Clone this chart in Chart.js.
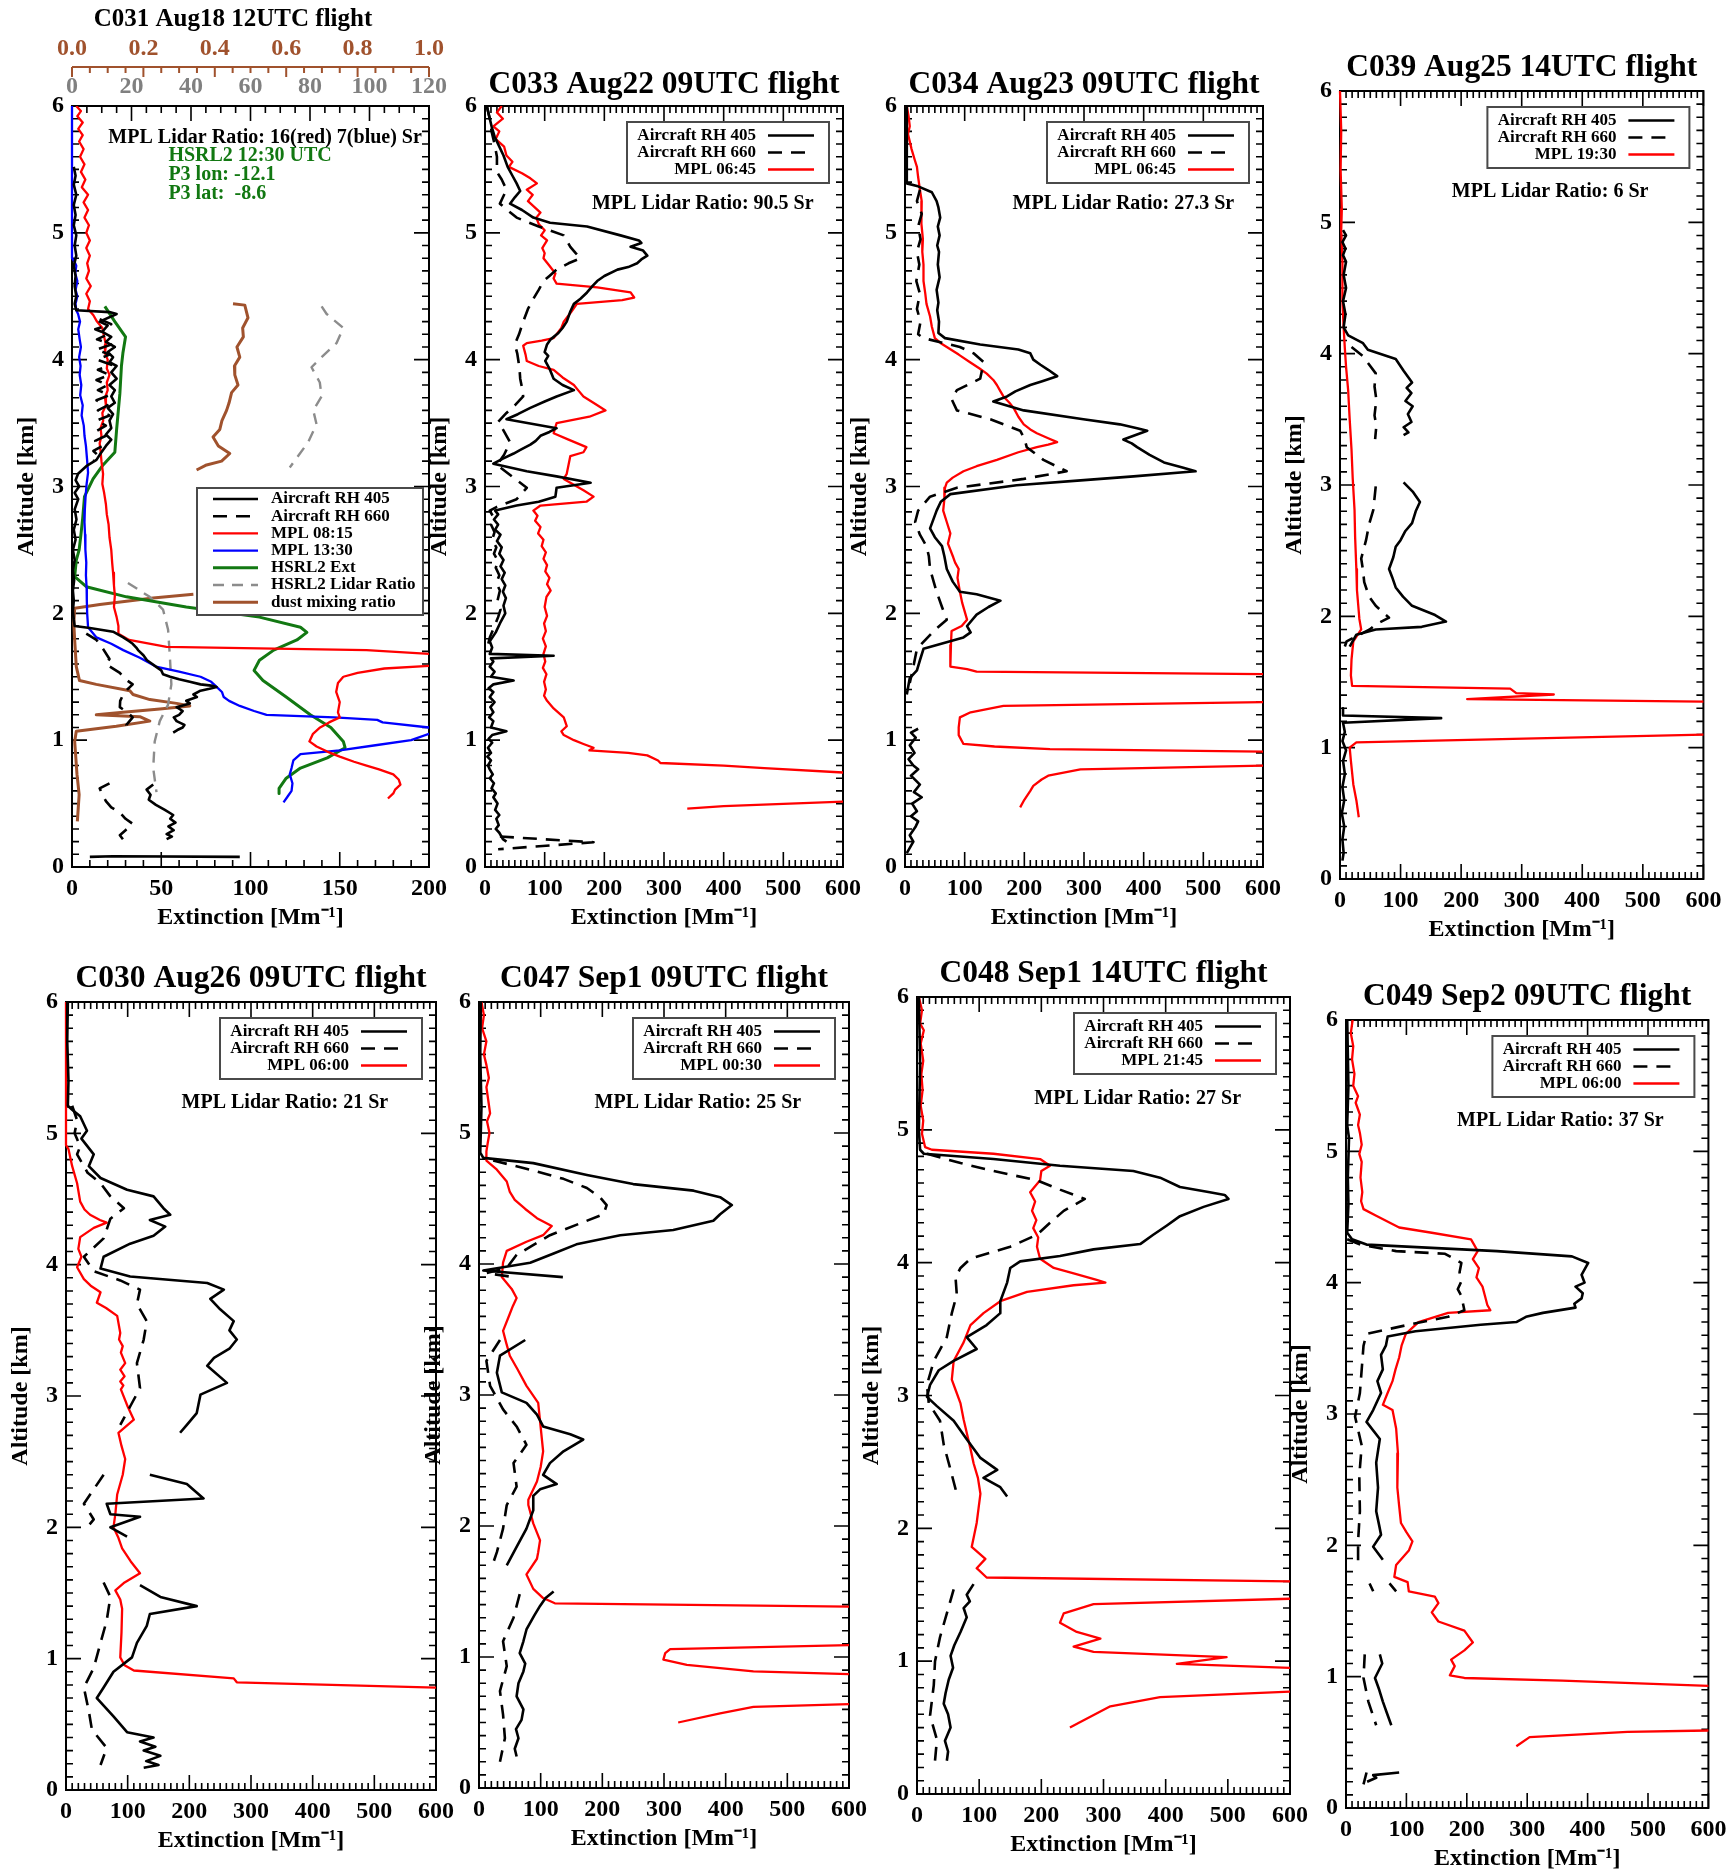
<!DOCTYPE html>
<html>
<head>
<meta charset="utf-8">
<title>Extinction profiles</title>
<script src="https://cdn.jsdelivr.net/npm/chart.js@4.4.1/dist/chart.umd.min.js"></script>
<style>
  html, body { margin: 0; padding: 0; background: #fff; }
  body { position: relative; width: 1734px; height: 1874px; overflow: hidden; }
  canvas { position: absolute; }
</style>
</head>
<body>
<script>
// ---------- profile data: [extinction (Mm-1), altitude (km)], null breaks a line ----------

// C031 Aug18
const c031Rh405 = [[1,5.52],[2,5.45],[1,5.38],[2.4,5.3],[1,5.22],[2,5.14],[1,5.06],[2.4,4.98],[1.5,4.9],[2.4,4.82],[1,4.74],[2,4.66],[1.5,4.58],[2.4,4.5],[1.5,4.44],[2.4,4.39],
  [21,4.375],[25,4.36],[15.5,4.3],[20,4.27],[17,4.22],[22,4.18],[19,4.14],[24,4.1],[20,4.06],[23,4.02],[21,3.98],[25,3.95],[22,3.9],[25,3.85],[21,3.8],[24,3.76],[22,3.71],[24,3.66],[20,3.62],[23,3.57],[21,3.52],[22,3.46],[19,3.41],[22,3.37],[19,3.32],[16,3.26],[13.7,3.21],[8,3.16],[3.4,3.1],[2,3.05],[4,3.0],[1.5,2.95],[3.5,2.9],[1.5,2.82],[2.5,2.74],[1,2.66],[2,2.58],[0.5,2.5],[1.5,2.42],[0.5,2.34],[1.2,2.26],[0.5,2.18],[1,2.1],[0.5,2.02],[1,1.95],[1.5,1.9],
  [10,1.885],[23,1.855],[28.7,1.81],[32,1.78],[34,1.76],[36,1.73],[37,1.71],[40,1.67],[42,1.63],[44,1.61],[47,1.58],[50,1.55],[51,1.52],[55,1.5],[60,1.48],[66,1.46],[72,1.44],[78,1.43],[81,1.42],[77,1.405],[72,1.39],[68,1.36],[70,1.34],[64,1.31],[66,1.29],[58.6,1.26],[62,1.23],[60,1.2],[57,1.18],[58.6,1.15],[63,1.12],[62,1.1],[59,1.08],[56.7,1.06],
  null,[45.5,0.65],[41.8,0.61],[44,0.57],[43,0.53],[47,0.49],[52,0.45],[56.7,0.41],[55,0.38],[58,0.35],[54,0.32],[57,0.29],[53,0.26],[56,0.24],[53,0.22],
  null,[10,0.08],[23,0.085],[94,0.08]];
const c031Rh660 = [[15.5,4.32],[22,4.28],[13,4.24],[20,4.2],[14,4.16],[22,4.12],[13.7,4.08],[21,4.04],[14,4.0],[22,3.96],[14.5,3.92],[21,3.88],[13.7,3.84],[20,3.8],[14.5,3.76],[21,3.72],[13.7,3.68],[20,3.64],[14.5,3.6],[21,3.56],[13.7,3.52],[19,3.48],[14,3.44],[19,3.4],[13,3.36],[17,3.32],[12,3.28],[15,3.24],[12,3.2],
  null,[8,1.84],[13.7,1.79],[17.4,1.72],[21,1.64],[19,1.6],[26.8,1.53],[30,1.48],[34,1.44],[31,1.4],[28.7,1.36],[27,1.31],[26.8,1.26],[31,1.22],[34,1.18],[30.5,1.12],[34,1.07],
  null,[21,0.66],[15.5,0.62],[17,0.57],[19,0.52],[22,0.47],[26.8,0.43],[30,0.38],[34,0.34],[30,0.29],[26.8,0.25],[29,0.21],[30.5,0.17]];
const c031Mpl0815 = [[2.4,6.0],[5,5.96],[3,5.92],[6,5.87],[3.5,5.82],[6,5.77],[4,5.72],[6.5,5.66],[4.5,5.6],[7,5.54],[5,5.48],[7.5,5.42],[5.5,5.36],[9,5.3],[6.5,5.24],[9,5.18],[7,5.12],[9.5,5.06],[8,5.0],[10,4.94],[8,4.88],[10,4.82],[8.5,4.76],[9.5,4.7],[8,4.64],[10.5,4.58],[8,4.52],[10,4.46],[9,4.4],[12,4.35],[14,4.3],[17,4.25],[18,4.18],[19,4.12],[18.5,4.05],[20,4.0],[19.5,3.93],[21,3.88],[19.5,3.82],[20,3.76],[18.5,3.7],[19,3.64],[17,3.58],[17.5,3.52],[16,3.46],[16.5,3.4],[15.5,3.34],[16,3.28],[16.5,3.2],[17.4,3.1],[17,3.02],[18,2.95],[19,2.86],[19.5,2.78],[20.5,2.7],[21,2.6],[22,2.5],[22.5,2.4],[23,2.32],[23.5,2.22],[24,2.14],[23.5,2.05],[25,1.97],[26,1.9],[26,1.84],[32,1.79],[53,1.735],[165,1.71],[200,1.68],[500,1.62],[200,1.585],[175,1.565],[160,1.53],[152,1.5],[149,1.45],[148,1.38],[150,1.3],[149,1.22],[150,1.18],[144,1.14],[139,1.1],[135,1.05],[133,0.99],[137,0.95],[143,0.91],[150,0.87],[158,0.83],[165,0.8],[172,0.77],[180,0.73],[183,0.69],[184,0.65],[181,0.61],[180,0.58],[177,0.54]];
const c031Mpl1330 = [[0,6.0],[0,5.4],[0,4.8],[1.5,4.77],[2.4,4.74],[1.8,4.68],[3,4.62],[2,4.55],[3,4.5],[2,4.44],[2.4,4.39],[3.4,4.36],[4.5,4.3],[3.5,4.24],[4.3,4.16],[5,4.1],[4,4.02],[4.8,3.95],[4.3,3.88],[5.2,3.8],[4.6,3.72],[6,3.64],[5.4,3.56],[6.6,3.48],[7,3.4],[7.8,3.32],[8.4,3.22],[9,3.11],[8.2,3.02],[7.6,2.92],[7.2,2.82],[7,2.72],[7.3,2.62],[7.5,2.5],[8,2.4],[7.8,2.3],[8.2,2.2],[8.3,2.1],[8.5,2.0],[9,1.89],[13.7,1.81],[22,1.76],[28.7,1.71],[38,1.65],[47,1.58],[60,1.54],[72,1.5],[78,1.46],[81,1.42],[84,1.38],[85,1.34],[88,1.31],[94,1.27],[102,1.23],[109,1.2],[147,1.18],[171,1.16],[174,1.14],[200,1.1],[300,1.075],[200,1.05],[190,1.0],[170,0.96],[150,0.92],[128,0.89],[124,0.84],[123,0.78],[122,0.73],[123.5,0.66],[123,0.6],[121,0.56],[118.5,0.51]];
const c031HsrlExt = [[18.4,4.42],[24,4.3],[30,4.18],[28.5,4.05],[27.7,3.95],[26.8,3.73],[25,3.45],[24,3.27],[17.4,3.17],[11.8,3.06],[7,2.92],[6,2.75],[5,2.62],[4,2.5],[2.4,2.42],[1.5,2.29],[8,2.21],[30.5,2.13],[64,2.05],[105,1.97],[128,1.89],[131.6,1.85],[126,1.79],[113,1.71],[105,1.63],[102,1.55],[107,1.47],[120,1.34],[133.5,1.2],[145,1.1],[152,0.99],[153,0.94],[143,0.86],[128,0.78],[120,0.7],[116,0.62],[116,0.58]];
// lidar ratio in Sr (0-120 axis)
const c031HsrlRatio = [[83.9,4.42],[85.6,4.36],[91.2,4.25],[88.9,4.13],[83.9,4.02],[80.5,3.94],[83.3,3.82],[83.9,3.71],[81.1,3.6],[82.2,3.49],[79.4,3.35],[76,3.24],[73.2,3.15],
  null,[18.8,2.24],[26.1,2.13],[30.6,2.03],[32.3,1.87],[32.9,1.66],[33.4,1.44],[32.3,1.28],[29.5,1.15],[27.8,0.99],[27.3,0.78],[28.4,0.59]];
// dust mixing ratio (0-1 axis)
const c031Dust = [[0.451,4.44],[0.484,4.43],[0.493,4.33],[0.478,4.25],[0.48,4.18],[0.462,4.1],[0.47,4.02],[0.455,3.95],[0.456,3.88],[0.465,3.8],[0.447,3.74],[0.44,3.66],[0.433,3.6],[0.42,3.52],[0.414,3.45],[0.395,3.39],[0.41,3.32],[0.442,3.26],[0.419,3.2],[0.377,3.17],[0.349,3.13],
  null,[0.34,2.15],[0.227,2.12],[0.078,2.07],[0.0075,2.04],[0.005,1.92],[0.0075,1.79],[0.012,1.58],[0.021,1.47],[0.068,1.44],[0.162,1.39],[0.171,1.36],[0.218,1.32],[0.293,1.29],[0.33,1.27],[0.246,1.245],[0.143,1.22],[0.068,1.2],[0.19,1.185],[0.218,1.15],[0.124,1.11],[0.012,1.07],[0.0075,0.99],[0.014,0.73],[0.02,0.57],[0.015,0.36]];

// C033 Aug22
const c033Rh405 = [[3,6.0],[6,5.94],[11,5.84],[16,5.76],[24,5.68],[31,5.61],[38,5.52],[46,5.45],[53,5.39],[59,5.33],[50,5.28],[42,5.23],[62,5.18],[81,5.12],[109,5.08],[171,5.05],[227,4.98],[258,4.94],[262,4.92],[244,4.89],[265,4.86],[272,4.82],[262,4.79],[255,4.76],[240,4.73],[222,4.71],[200,4.66],[188,4.62],[180,4.58],[171,4.53],[160,4.48],[149,4.44],[143,4.38],[137,4.3],[130,4.25],[123,4.21],[110,4.16],[104,4.12],[100,4.06],[106,4.03],[101,3.99],[108,3.93],[115,3.85],[130,3.8],[149,3.76],[120,3.71],[100,3.67],[76,3.62],[55,3.57],[36,3.53],[120,3.46],[108,3.43],[93,3.4],[85,3.36],[76,3.33],[60,3.29],[48,3.26],[30,3.22],[14,3.18],[70,3.12],[120,3.08],[177,3.03],[120,2.99],[118,2.92],[90,2.88],[53,2.85],[17,2.81],[22,2.78],[15,2.74],[22,2.7],[17,2.66],[26,2.62],[20,2.57],[28,2.52],[24,2.47],[31,2.42],[26,2.37],[33,2.32],[28,2.27],[34,2.22],[30,2.17],[35,2.12],[31,2.06],[34,2.0],[25,1.92],[18,1.85],[8,1.78],[12,1.73],[8,1.68],[115,1.665],[10,1.645],[14,1.62],[8,1.58],[16,1.54],[10,1.5],[48,1.47],[14,1.44],[6,1.41],[14,1.38],[8,1.34],[16,1.3],[9,1.26],[14,1.22],[7,1.18],[14,1.15],[10,1.1],[36,1.07],[12,1.04],[6,1.01],[12,0.98],[5,0.94],[10,0.9],[4,0.87],[10,0.84],[5,0.8],[8,0.77],[13,0.73],[8,0.7],[15,0.66],[11,0.62],[18,0.58],[14,0.55],[21,0.5],[17,0.45],[24,0.41],[19,0.38],[23,0.33],[18,0.3],[24,0.27],[30,0.22],[36,0.2]];
const c033Rh660 = [[3,6.0],[8,5.9],[11,5.8],[16,5.7],[20,5.6],[20,5.48],[28,5.42],[36,5.34],[30,5.28],[25,5.23],[40,5.17],[53,5.12],[90,5.05],[132,4.98],[138,4.93],[143,4.89],[152,4.84],[160,4.8],[140,4.76],[120,4.71],[108,4.66],[98,4.62],[90,4.55],[81,4.48],[72,4.4],[64,4.3],[57,4.2],[50,4.12],[54,4.05],[56,3.99],[58,3.92],[59,3.85],[62,3.78],[64,3.71],[50,3.64],[36,3.58],[22,3.51],[30,3.45],[42,3.35],[32,3.25],[20,3.17],[45,3.08],[70,2.99],[53,2.9],[20,2.84],[8,2.81],[14,2.76],[10,2.7],[16,2.64],[12,2.58],[19,2.52],[15,2.47],[22,2.41],[18,2.36],[24,2.3],[19,2.24],[25,2.18],[21,2.1],[26,2.03],[22,1.97],[16,1.9],[8,1.81],[5,1.75],
  null,[25,0.24],[182,0.195],[22,0.14]];
const c033Mpl = [[28,6.0],[20,5.95],[30,5.9],[14,5.84],[24,5.8],[18,5.74],[32,5.68],[36,5.61],[46,5.56],[40,5.52],[62,5.47],[76,5.43],[87,5.39],[70,5.34],[80,5.3],[72,5.25],[93,5.16],[86,5.12],[90,5.07],[100,5.02],[94,4.98],[104,4.94],[96,4.88],[100,4.84],[98,4.8],[108,4.74],[118,4.68],[115,4.64],[120,4.6],[188,4.57],[244,4.53],[250,4.49],[230,4.47],[154,4.44],[145,4.38],[132,4.3],[128,4.25],[115,4.17],[95,4.15],[70,4.13],[64,4.11],[68,4.04],[70,3.99],[90,3.95],[115,3.92],[130,3.86],[149,3.8],[156,3.76],[165,3.71],[185,3.65],[202,3.6],[175,3.55],[120,3.5],[115,3.42],[140,3.37],[170,3.31],[165,3.27],[143,3.24],[137,3.1],[132,3.06],[165,2.97],[182,2.92],[170,2.88],[93,2.85],[81,2.81],[88,2.77],[84,2.73],[93,2.68],[89,2.63],[98,2.58],[95,2.53],[102,2.48],[98,2.43],[104,2.38],[101,2.33],[108,2.28],[104,2.23],[110,2.18],[103,2.13],[100,2.05],[104,1.98],[99,1.92],[102,1.86],[97,1.8],[102,1.74],[98,1.68],[101,1.62],[97,1.57],[103,1.52],[99,1.46],[102,1.4],[99,1.35],[104,1.31],[115,1.25],[132,1.18],[137,1.11],[128,1.07],[132,1.04],[149,1.0],[165,0.97],[182,0.94],[175,0.92],[240,0.9],[272,0.88],[290,0.84],[294,0.82],[400,0.8],[468,0.78],[600,0.745],[2000,0.62],[600,0.515],[400,0.48],[339,0.46]];

// C034 Aug23
const c034Rh405 = [[3,6.0],[3,5.6],[3,5.39],[20,5.37],[45,5.32],[53,5.25],[56,5.2],[59,5.12],[55,5.05],[58,4.98],[54,4.9],[57,4.85],[55,4.75],[58,4.65],[53,4.55],[56,4.45],[54,4.39],[57,4.3],[56,4.21],[67,4.17],[126,4.12],[190,4.08],[210,4.05],[215,4.0],[227,3.96],[240,3.92],[255,3.87],[230,3.83],[210,3.8],[185,3.75],[171,3.71],[148,3.67],[199,3.6],[299,3.53],[360,3.49],[389,3.46],[406,3.44],[366,3.37],[380,3.34],[389,3.31],[410,3.25],[434,3.19],[465,3.15],[487,3.12],[383,3.08],[300,3.05],[187,3.01],[76,2.94],[60,2.88],[53,2.81],[42,2.67],[50,2.6],[62,2.53],[66,2.45],[70,2.35],[80,2.25],[92,2.17],[120,2.15],[160,2.1],[140,2.05],[120,1.99],[104,1.9],[110,1.85],[98,1.81],[31,1.72],[25,1.63],[20,1.55],[8,1.49],[3,1.36],
  null,[22,1.09],[10,1.06],[18,1.02],[8,0.96],[16,0.9],[6,0.85],[14,0.8],[22,0.77],[10,0.72],[25,0.65],[15,0.59],[28,0.55],[12,0.5],[20,0.44],[10,0.4],[22,0.36],[18,0.32],[8,0.25],[14,0.2],[3,0.11]];
const c034Rh660 = [[25,5.34],[20,5.25],[28,5.15],[22,5.05],[26,4.95],[20,4.85],[24,4.75],[19,4.62],[25,4.52],[20,4.4],[26,4.3],[22,4.2],[31,4.17],[92,4.1],[115,4.05],[132,3.98],[126,3.85],[87,3.76],[78,3.69],[87,3.6],[143,3.53],[193,3.44],[200,3.38],[204,3.31],[232,3.21],[271,3.12],[199,3.06],[87,2.99],[42,2.92],[22,2.81],[17,2.72],[25,2.62],[36,2.53],[40,2.45],[42,2.35],[48,2.25],[53,2.17],[62,2.05],[70,1.95],[48,1.86],[20,1.72],[14,1.58],[8,1.45]];
const c034Mpl = [[3,6.0],[6,5.92],[8,5.84],[5,5.78],[11,5.66],[16,5.58],[20,5.52],[22,5.44],[25,5.34],[28,5.25],[27,5.15],[28,5.07],[30,4.95],[29,4.85],[31,4.75],[31,4.62],[34,4.52],[36,4.44],[42,4.34],[45,4.26],[50,4.17],[60,4.13],[70,4.1],[90,4.04],[109,3.98],[125,3.93],[137,3.89],[148,3.84],[154,3.8],[160,3.75],[165,3.71],[175,3.66],[182,3.62],[190,3.55],[199,3.49],[210,3.45],[221,3.42],[240,3.38],[255,3.35],[240,3.33],[221,3.31],[190,3.27],[154,3.21],[120,3.16],[98,3.12],[80,3.07],[70,3.03],[67,2.99],[66,2.9],[64,2.81],[70,2.72],[76,2.63],[72,2.55],[81,2.44],[84,2.4],[90,2.35],[88,2.28],[92,2.17],[96,2.08],[104,1.95],[95,1.9],[78,1.86],[77,1.75],[76,1.65],[76,1.58],[104,1.56],[120,1.54],[600,1.52],[3000,1.4],[600,1.3],[165,1.27],[110,1.22],[92,1.18],[90,1.1],[90,1.04],[98,0.97],[150,0.95],[243,0.93],[600,0.91],[3000,0.85],[600,0.8],[294,0.77],[240,0.72],[229,0.69],[215,0.64],[210,0.6],[200,0.53],[193,0.47]];

// C039 Aug25
const c039Rh405 = [[5,4.94],[10,4.9],[4,4.85],[9,4.8],[5,4.75],[10,4.7],[6,4.6],[10,4.5],[5,4.4],[9,4.3],[6,4.2],[13.5,4.14],[38,4.08],[46,4.03],[92,3.96],[105,3.87],[119,3.78],[110,3.74],[118,3.7],[108,3.64],[120,3.6],[112,3.54],[118,3.48],[105,3.44],[113,3.4],[105,3.38],
  null,[105,3.02],[120,2.95],[132,2.87],[125,2.8],[119,2.71],[108,2.65],[100,2.58],[92,2.53],[88,2.45],[81,2.36],[86,2.3],[92,2.22],[104,2.15],[119,2.08],[157,2.01],[175,1.96],[135,1.92],[59,1.9],[27,1.86],[16,1.77],
  null,[5,1.3],[5,1.245],[167,1.225],[5,1.19],[8,1.12],[4,1.05],[10,0.98],[5,0.9],[8,0.8],[4,0.7],[7,0.6],[3,0.5],[7,0.4],[4,0.3],[6,0.2],[4,0.14]];
const c039Rh660 = [[19,4.05],[38,3.98],[59,3.85],[57,3.75],[60,3.65],[57,3.53],[60,3.45],[58,3.35],
  null,[59,2.99],[57,2.9],[55,2.81],[48,2.7],[43,2.58],[35,2.44],[38,2.35],[40,2.26],[48,2.15],[59,2.08],[81,1.99],[60,1.94],[49,1.9],[11,1.81],[8,1.77]];
const c039Mpl = [[0,6.0],[2,5.7],[1,5.4],[3,5.1],[2,4.94],[4,4.7],[4,4.4],[6,4.2],[8,4.04],[10,3.9],[13.5,3.72],[16,3.5],[19,3.27],[21,3.05],[24,2.81],[25,2.6],[27,2.36],[28,2.2],[30,2.09],[32,1.98],[35,1.9],[22,1.81],[19,1.67],[18,1.55],[20,1.47],[281,1.45],[291,1.415],[353,1.405],[210,1.37],[600,1.35],[3000,1.25],[600,1.1],[27,1.04],[16,1.0],[18,0.9],[22,0.72],[27,0.6],[31,0.47]];

// C030 Aug26
const c030Rh405 = [[3,6.0],[2,5.7],[4,5.4],[3,5.21],[10,5.18],[23,5.13],[34,5.02],[25,4.96],[45,4.84],[37,4.75],[56,4.66],[99,4.57],[142,4.52],[158,4.43],[169,4.38],[136,4.34],[161,4.29],[142,4.22],[104,4.16],[61,4.06],[56,3.97],[104,3.91],[229,3.86],[256,3.81],[234,3.74],[250,3.66],[272,3.57],[265,3.5],[277,3.43],[265,3.36],[240,3.29],[229,3.23],[261,3.1],[218,3.01],[212,2.87],[196,2.78],[185,2.72],
  null,[136,2.4],[196,2.33],[223,2.22],[66,2.18],[72,2.1],[120,2.08],[72,2.0],[99,1.93],
  null,[120,1.56],[153,1.47],[212,1.4],[136,1.34],[131,1.25],[115,1.12],[107,1.01],[77,0.9],[61,0.78],[50,0.7],[77,0.56],[99,0.44],[142,0.4],[120,0.37],[145,0.33],[126,0.3],[153,0.26],[130,0.22],[150,0.19],[126,0.17]];
const c030Rh660 = [[10,5.21],[18,5.1],[14,5.0],[23,4.9],[18,4.84],[35,4.7],[56,4.62],[72,4.52],[94,4.43],[72,4.35],[61,4.2],[29,4.06],[45,3.95],[88,3.88],[120,3.81],[115,3.7],[131,3.57],[126,3.43],[115,3.25],[120,3.06],[104,2.92],[88,2.78],
  null,[61,2.4],[29,2.18],[45,2.06],[29,1.97],
  null,[61,1.58],[72,1.47],[66,1.29],[56,1.12],[45,0.93],[29,0.78],[37,0.6],[42,0.46],[66,0.32],[56,0.19]];
const c030Mpl = [[0,6.0],[0,4.91],[4,4.88],[10,4.75],[18,4.62],[23,4.48],[30,4.42],[39,4.38],[55,4.34],[66,4.32],[45,4.28],[23,4.21],[20,4.12],[25,4.06],[18,3.98],[29,3.89],[40,3.84],[56,3.79],[50,3.71],[65,3.67],[83,3.61],[88,3.48],[86,3.43],[92,3.38],[89,3.33],[96,3.25],[88,3.2],[95,3.15],[88,3.11],[93,3.08],[89,3.05],[100,2.92],[110,2.82],[85,2.72],[90,2.62],[96,2.52],[92,2.4],[83,2.25],[80,2.1],[77,2.0],[85,1.92],[91,1.84],[105,1.74],[120,1.65],[95,1.58],[80,1.52],[88,1.45],[91,1.38],[90,1.2],[88,1.01],[95,0.95],[110,0.91],[272,0.85],[277,0.82],[600,0.78],[1200,0.7]];

// C047 Sep1 09UTC
const c047Rh405 = [[3,6.0],[2,5.6],[4,5.2],[2,4.85],[7,4.81],[88,4.77],[175,4.68],[250,4.61],[348,4.56],[391,4.51],[410,4.45],[391,4.38],[380,4.33],[315,4.26],[229,4.22],[158,4.15],[121,4.08],[83,4.01],[7,3.95],[136,3.9],
  null,[75,3.42],[34,3.3],[29,3.17],[37,3.02],[77,2.94],[94,2.85],[104,2.76],[148,2.7],[169,2.66],[137,2.57],[115,2.48],[104,2.39],[126,2.32],[99,2.28],[88,2.23],[88,2.12],[77,1.98],[61,1.84],[45,1.7],
  null,[121,1.5],[108,1.45],[99,1.39],[90,1.32],[77,1.21],[72,1.12],[66,1.03],[75,0.95],[72,0.89],[64,0.8],[61,0.7],[72,0.6],[69,0.52],[60,0.45],[64,0.38],[58,0.3],[61,0.24]];
const c047Rh660 = [[23,4.79],[83,4.72],[137,4.65],[175,4.58],[196,4.51],[207,4.45],[202,4.38],[164,4.31],[115,4.22],[83,4.13],[61,4.07],[45,3.97],[12,3.93],[56,3.9],
  null,[34,3.42],[12,3.26],[18,3.07],[39,2.89],[61,2.76],[77,2.62],[56,2.48],[61,2.3],[45,2.16],[39,1.98],[29,1.8],[21,1.69],
  null,[66,1.48],[56,1.3],[39,1.12],[45,0.93],[34,0.74],[39,0.56],[42,0.38],[34,0.2]];
const c047Mpl = [[4,6.0],[8,5.9],[5,5.8],[12,5.7],[8,5.6],[12,5.52],[16,5.42],[12,5.35],[15,5.25],[18,5.15],[13,5.09],[17,5.0],[14,4.92],[12,4.86],[12,4.79],[29,4.72],[45,4.63],[50,4.55],[58,4.49],[75,4.42],[94,4.35],[118,4.29],[104,4.22],[77,4.17],[45,4.1],[39,4.01],[37,3.9],[53,3.81],[61,3.74],[55,3.68],[50,3.62],[39,3.49],[44,3.4],[50,3.3],[62,3.2],[77,3.07],[96,2.94],[99,2.8],[104,2.57],[100,2.45],[94,2.34],[80,2.2],[80,2.16],[88,2.02],[99,1.89],[96,1.8],[94,1.75],[77,1.63],[88,1.52],[104,1.45],[123,1.41],[600,1.385],[3000,1.25],[600,1.09],[310,1.06],[302,1.03],[299,0.98],[337,0.94],[445,0.89],[600,0.87],[3000,0.75],[600,0.64],[445,0.62],[391,0.57],[323,0.5]];

// C048 Sep1 14UTC
const c048Rh405 = [[3,6.0],[5,5.5],[3,5.0],[5,4.85],[11,4.82],[123,4.78],[230,4.73],[348,4.69],[391,4.64],[423,4.57],[471,4.53],[495,4.51],[501,4.48],[461,4.42],[423,4.35],[402,4.28],[380,4.21],[359,4.14],[284,4.1],[230,4.05],[166,4.01],[150,3.96],[145,3.85],[134,3.71],[134,3.62],[112,3.53],[80,3.44],[96,3.35],[59,3.26],[35,3.19],[21,3.08],[16,2.99],[32,2.92],[59,2.81],[80,2.67],[102,2.53],[129,2.44],[107,2.38],[134,2.31],[145,2.24],
  null,[91,1.58],[80,1.5],[85,1.45],[75,1.4],[80,1.33],[70,1.22],[60,1.12],[54,1.04],[58,0.95],[51,0.86],[46,0.76],[43,0.68],[50,0.6],[54,0.5],[45,0.4],[50,0.32],[48,0.25]];
const c048Rh660 = [[16,4.82],[70,4.75],[123,4.69],[193,4.62],[230,4.55],[270,4.48],[236,4.39],[214,4.3],[193,4.21],[150,4.12],[86,4.03],[70,3.96],[62,3.89],[64,3.76],[56,3.62],[48,3.44],[27,3.26],[16,3.08],[19,2.94],[37,2.81],[43,2.63],[54,2.44],[64,2.26],
  null,[59,1.54],[48,1.36],[37,1.18],[29,1.0],[27,0.82],[21,0.59],[32,0.41],[29,0.25]];
const c048Mpl = [[3,6.0],[8,5.9],[5,5.8],[11,5.75],[6,5.65],[10,5.52],[7,5.42],[9,5.3],[6,5.18],[10,5.07],[8,4.97],[13,4.87],[24,4.85],[123,4.82],[198,4.78],[214,4.73],[200,4.69],[198,4.62],[182,4.53],[190,4.46],[185,4.39],[192,4.32],[187,4.26],[195,4.19],[193,4.12],[198,4.03],[220,3.96],[252,3.92],[289,3.87],[303,3.85],[252,3.83],[177,3.78],[134,3.71],[107,3.62],[86,3.53],[75,3.4],[59,3.26],[56,3.12],[63,3.03],[70,2.94],[75,2.82],[80,2.72],[86,2.6],[91,2.49],[98,2.38],[102,2.26],[99,2.15],[96,2.04],[92,1.95],[88,1.86],[110,1.77],[96,1.7],[112,1.63],[600,1.6],[3000,1.53],[600,1.47],[284,1.43],[236,1.36],[230,1.29],[257,1.22],[295,1.17],[252,1.11],[284,1.07],[498,1.03],[418,0.98],[600,0.95],[3000,0.86],[600,0.77],[391,0.73],[311,0.66],[262,0.54],[246,0.5]];

// C049 Sep2
const c049Rh405 = [[2,6.0],[4,5.5],[2,5.2],[5,5.1],[3,4.8],[4,4.6],[2,4.38],[10,4.33],[34,4.29],[250,4.24],[374,4.2],[401,4.15],[390,4.06],[395,4.0],[380,3.97],[392,3.92],[390,3.88],[378,3.84],[380,3.81],[326,3.77],[298,3.74],[282,3.7],[223,3.68],[115,3.63],[69,3.59],[66,3.52],[58,3.45],[61,3.34],[52,3.25],[58,3.16],[45,3.03],[34,2.94],[56,2.81],[50,2.63],[53,2.44],[50,2.26],[55,2.15],[58,2.08],[45,1.99],[61,1.89],
  null,[72,1.71],[83,1.65],
  null,[56,1.17],[60,1.1],[48,0.99],[55,0.9],[61,0.81],[68,0.72],[75,0.63],
  null,[88,0.27],[45,0.25],[50,0.23],[35,0.2]];
const c049Rh660 = [[2,4.33],[24,4.29],[83,4.24],[164,4.22],[191,4.15],[188,4.08],[191,4.01],[185,3.95],[191,3.9],[196,3.79],[169,3.74],[104,3.68],[34,3.61],[29,3.52],[26,3.34],[23,3.16],[15,2.98],[26,2.76],[22,2.53],[23,2.26],[20,2.03],[20,1.85],
  null,[39,1.71],[45,1.65],
  null,[31,1.17],[29,0.99],[37,0.81],[50,0.63],
  null,[34,0.27],[29,0.18]];
const c049Mpl = [[11,6.0],[8,5.9],[12,5.8],[10,5.7],[14,5.59],[12,5.5],[20,5.42],[16,5.37],[23,5.28],[20,5.2],[23,5.14],[26,5.05],[22,4.98],[26,4.92],[24,4.8],[27,4.69],[25,4.62],[29,4.56],[50,4.51],[88,4.42],[142,4.38],[207,4.33],[212,4.29],[218,4.24],[210,4.18],[220,4.11],[216,4.04],[226,3.97],[230,3.9],[234,3.83],[239,3.79],[169,3.77],[120,3.7],[99,3.61],[92,3.52],[88,3.43],[82,3.34],[77,3.25],[68,3.15],[61,3.07],[77,3.03],[83,2.89],[86,2.7],[85,2.44],[88,2.3],[91,2.17],[100,2.1],[110,2.03],[104,1.96],[83,1.85],[80,1.76],[102,1.72],[104,1.65],[147,1.61],[153,1.56],[142,1.49],[153,1.42],[196,1.35],[210,1.26],[196,1.2],[174,1.13],[180,1.08],[172,1.01],[196,0.99],[358,0.97],[600,0.93],[3000,0.75],[600,0.59],[466,0.58],[304,0.54],[282,0.47]];

// MPL lidar ratios (Sr) quoted on each panel
const mplLidarRatio = { c033: '90.5', c034: '27.3', c039: '6', c030: '21', c047: '25', c048: '27', c049: '37' };

// ---------- drawing ----------
const SERIF = '"Liberation Serif","Times New Roman",serif';
Chart.defaults.font.family = SERIF;
Chart.defaults.font.weight = 'bold';
Chart.defaults.font.size = 24;
Chart.defaults.color = '#000';

const STYLE = {
  rh405: { borderColor: '#000000', borderWidth: 2.6 },
  rh660: { borderColor: '#000000', borderWidth: 2.6, borderDash: [14, 9] },
  mpl:   { borderColor: '#ff0000', borderWidth: 2.3 },
  mplB:  { borderColor: '#0000ff', borderWidth: 2.3 },
  hsrl:  { borderColor: '#127812', borderWidth: 3 },
  ratio: { borderColor: '#8c8c8c', borderWidth: 2.4, borderDash: [11, 8] },
  dust:  { borderColor: '#a0522d', borderWidth: 3 }
};
const toXY = arr => arr.map(p => p ? { x: p[0], y: p[1] } : { x: NaN, y: NaN });
function series(label, data, style, extra) {
  return Object.assign({ label, data: toXY(data), showLine: true, pointRadius: 0, tension: 0,
    fill: false, spanGaps: false, borderJoinStyle: 'round',
    clip: { left: 3, top: 0, right: 0, bottom: 0 } }, STYLE[style], extra || {});
}

// IDL-style frame: closed box with inward major/minor ticks, boxed legend, text notes
const frame = {
  id: 'idlFrame',
  beforeDatasetsDraw(chart) {
    const f = chart.canvas._frame;
    const ctx = chart.ctx, a = chart.chartArea;
    const run = (scale, minor, major, fn) => {
      const n = Math.round((scale.max - scale.min) / minor);
      for (let i = 0; i <= n; i++) {
        const v = scale.min + i * minor;
        const q = v / major;
        fn(scale.getPixelForValue(v), Math.abs(q - Math.round(q)) < 1e-6);
      }
    };
    ctx.save();
    ctx.setLineDash([]);
    ctx.strokeStyle = '#000';
    ctx.lineWidth = 2;
    ctx.strokeRect(a.left, a.top, a.right - a.left, a.bottom - a.top);
    ctx.lineWidth = 1.6;
    ctx.beginPath();
    run(chart.scales.x, f.xMinor, f.xMajor, (p, M) => { ctx.moveTo(p, a.bottom); ctx.lineTo(p, a.bottom - (M ? 15 : 7)); });
    run(chart.scales[f.topScale], f.topMinor, f.topMajor, (p, M) => { ctx.moveTo(p, a.top); ctx.lineTo(p, a.top + (M ? 15 : 7)); });
    run(chart.scales.y, 0.1, 1, (p, M) => {
      const len = M ? 15 : 7;
      ctx.moveTo(a.left, p); ctx.lineTo(a.left + len, p);
      ctx.moveTo(a.right, p); ctx.lineTo(a.right - len, p);
    });
    ctx.stroke();

    if (f.brown) {
      const b = chart.scales.xb, yb = b.bottom;
      ctx.strokeStyle = '#a0522d';
      ctx.lineWidth = 2;
      ctx.beginPath();
      ctx.moveTo(a.left, yb); ctx.lineTo(a.right, yb);
      run(b, 0.05, 0.2, (p, M) => { ctx.moveTo(p, yb); ctx.lineTo(p, yb + (M ? 10 : 6)); });
      ctx.stroke();
    }
    ctx.restore();
  },
  afterDatasetsDraw(chart) {
    const f = chart.canvas._frame;
    const ctx = chart.ctx, a = chart.chartArea;
    const xs = chart.scales.x, ys = chart.scales.y;
    ctx.save();
    if (f.legend) {
      const g = f.legend;
      const bx = a.right + g.bx, by = a.top + g.by;
      ctx.fillStyle = '#fff';
      ctx.fillRect(bx, by, g.bw, g.bh);
      ctx.setLineDash([]);
      ctx.strokeStyle = '#4a4a4a';
      ctx.lineWidth = 2;
      ctx.strokeRect(bx, by, g.bw, g.bh);
      ctx.font = 'bold 17px ' + SERIF;
      ctx.textBaseline = 'middle';
      chart.data.datasets.forEach((d, i) => {
        const yy = a.top + g.row0 + g.rowStep * i;
        ctx.strokeStyle = d.borderColor;
        ctx.lineWidth = d.borderWidth;
        ctx.setLineDash(d.borderDash || []);
        ctx.beginPath();
        ctx.moveTo(a.right + g.l0, yy); ctx.lineTo(a.right + g.l1, yy);
        ctx.stroke();
        ctx.setLineDash([]);
        ctx.fillStyle = '#000';
        ctx.textAlign = g.align;
        ctx.fillText(d.label, a.right + g.tx, yy);
      });
    }
    (f.notes || []).forEach(n => {
      ctx.font = 'bold 20px ' + SERIF;
      ctx.fillStyle = n.color || '#000';
      ctx.textAlign = n.align || 'center';
      ctx.textBaseline = 'middle';
      ctx.fillText(n.text, xs.getPixelForValue(n.x), ys.getPixelForValue(n.y));
    });
    ctx.restore();
  }
};

const legendStd = { bx: -216, by: 16, bw: 202, bh: 61, row0: 29.5, rowStep: 17, l0: -75, l1: -29, tx: -87, align: 'right' };
const legendC031 = { bx: -232, by: 382, bw: 226, bh: 127, row0: 393, rowStep: 17.2, l0: -216, l1: -171, tx: -158, align: 'left' };

function ratioNote(key, x) {
  return [{ text: 'MPL Lidar Ratio: ' + mplLidarRatio[key] + ' Sr', x, y: 5.23 }];
}
function stdSeries(r405, r660, mpl, mplLabel) {
  return [series('Aircraft RH 405', r405, 'rh405'), series('Aircraft RH 660', r660, 'rh660'), series(mplLabel, mpl, 'mpl')];
}

const panels = [
  { title: 'C031 Aug18 12UTC flight', titleSize: 25, L: 72, R: 429, T: 106, B: 867, padL: 72, padR: 37, padT: 106, padB: 70,
    xMax: 200, xStep: 50, wide: true,
    datasets: [
      series('Aircraft RH 405', c031Rh405, 'rh405'),
      series('Aircraft RH 660', c031Rh660, 'rh660'),
      series('MPL 08:15', c031Mpl0815, 'mpl'),
      series('MPL 13:30', c031Mpl1330, 'mplB'),
      series('HSRL2 Ext', c031HsrlExt, 'hsrl'),
      series('HSRL2 Lidar Ratio', c031HsrlRatio, 'ratio', { xAxisID: 'xg' }),
      series('dust mixing ratio', c031Dust, 'dust', { xAxisID: 'xb' })
    ],
    frame: { xMinor: 10, xMajor: 50, topScale: 'xg', topMinor: 5, topMajor: 20, brown: true, legend: legendC031,
      notes: [
        { text: 'MPL Lidar Ratio: 16(red) 7(blue) Sr', x: 196, y: 5.75, align: 'right' },
        { text: 'HSRL2 12:30 UTC', x: 54, y: 5.61, align: 'left', color: '#127812' },
        { text: 'P3 lon: -12.1', x: 54, y: 5.46, align: 'left', color: '#127812' },
        { text: 'P3 lat:  -8.6', x: 54, y: 5.31, align: 'left', color: '#127812' }
      ] } },
  { title: 'C033 Aug22 09UTC flight', titleY: 21, L: 485, R: 843, T: 106, B: 867,
    datasets: stdSeries(c033Rh405, c033Rh660, c033Mpl, 'MPL 06:45'), notes: ratioNote('c033', 365) },
  { title: 'C034 Aug23 09UTC flight', titleY: 21, L: 905, R: 1263, T: 106, B: 867,
    datasets: stdSeries(c034Rh405, c034Rh660, c034Mpl, 'MPL 06:45'), notes: ratioNote('c034', 366) },
  { title: 'C039 Aug25 14UTC flight', L: 1340, R: 1711, T: 91, B: 879, padR: 18,
    datasets: stdSeries(c039Rh405, c039Rh660, c039Mpl, 'MPL 19:30'), notes: ratioNote('c039', 347) },
  { title: 'C030 Aug26 09UTC flight', L: 66, R: 436, T: 1002, B: 1790,
    datasets: stdSeries(c030Rh405, c030Rh660, c030Mpl, 'MPL 06:00'), notes: ratioNote('c030', 355) },
  { title: 'C047 Sep1 09UTC flight', L: 479, R: 849, T: 1002, B: 1788,
    datasets: stdSeries(c047Rh405, c047Rh660, c047Mpl, 'MPL 00:30'), notes: ratioNote('c047', 355) },
  { title: 'C048 Sep1 14UTC flight', L: 917, R: 1290, T: 997, B: 1794,
    datasets: stdSeries(c048Rh405, c048Rh660, c048Mpl, 'MPL 21:45'), notes: ratioNote('c048', 355) },
  { title: 'C049 Sep2 09UTC flight', L: 1346, R: 1716, T: 1020, B: 1808, padR: 18,
    datasets: stdSeries(c049Rh405, c049Rh660, c049Mpl, 'MPL 06:00'), notes: ratioNote('c049', 355) }
];

panels.forEach(p => {
  const padL = p.padL || 75, padR = p.padR || 40, padT = p.padT || 60, padB = p.padB || 70;
  const w = p.R - p.L + padL + padR, h = p.B - p.T + padT + padB;
  const cv = document.createElement('canvas');
  cv.width = w; cv.height = h;
  cv.style.left = (p.L - padL) + 'px';
  cv.style.top = (p.T - padT) + 'px';
  cv.style.width = w + 'px';
  cv.style.height = h + 'px';
  document.body.appendChild(cv);
  cv._frame = p.frame || { xMinor: 10, xMajor: 100, topScale: 'x', topMinor: 10, topMajor: 100, legend: legendStd, notes: p.notes };

  const titleSize = p.titleSize || 31.5;
  const lh = titleSize * 1.2;
  let titlePad;
  if (p.wide) {
    titlePad = { top: 5, bottom: 0 };
  } else {
    const centre = padT - (p.titleY || 23);
    titlePad = { top: centre - lh / 2, bottom: padT - (centre - lh / 2) - lh };
  }
  const tickLh = 24 * 1.2;

  const scales = {
    x: { type: 'linear', position: 'bottom', min: 0, max: p.xMax || 600,
      afterFit: s => { s.height = padB; },
      ticks: { stepSize: p.xStep || 100, padding: 22 - tickLh / 2, autoSkip: false, maxRotation: 0, font: { size: 24 } },
      grid: { display: false, drawTicks: false }, border: { display: false },
      title: { display: true, text: 'Extinction [Mm⁻¹]', font: { size: 24 }, padding: { top: 0, bottom: 4.6 } } },
    y: { type: 'linear', position: 'left', min: 0, max: 6,
      afterFit: s => { s.width = padL; },
      ticks: { stepSize: 1, padding: 8, autoSkip: false, font: { size: 24 } },
      grid: { display: false, drawTicks: false }, border: { display: false },
      title: { display: true, text: 'Altitude [km]', font: { size: 24 }, padding: { top: padL - 45 - 14.4, bottom: 0 } } },
    yr: { type: 'linear', position: 'right', min: 0, max: 6, display: true,
      afterFit: s => { s.width = padR; },
      ticks: { display: false }, grid: { display: false, drawTicks: false }, border: { display: false } }
  };
  if (p.wide) {
    scales.xg = { type: 'linear', position: 'top', min: 0, max: 120, weight: 1,
      afterFit: s => { s.height = 39; },
      ticks: { stepSize: 20, padding: 19 - tickLh / 2, color: '#808080', autoSkip: false, maxRotation: 0, font: { size: 24 } },
      grid: { display: false, drawTicks: false }, border: { display: false } };
    scales.xb = { type: 'linear', position: 'top', min: 0, max: 1, weight: 2,
      afterFit: s => { s.height = 32; },
      ticks: { stepSize: 0.2, padding: 18 - tickLh / 2, color: '#a0522d', autoSkip: false, maxRotation: 0, font: { size: 24 },
        callback: v => Number(v).toFixed(1) },
      grid: { display: false, drawTicks: false }, border: { display: false } };
  }

  new Chart(cv, {
    type: 'scatter',
    data: { datasets: p.datasets },
    options: {
      responsive: false, animation: false, events: [],
      layout: { padding: 0 },
      scales,
      plugins: {
        legend: { display: false },
        tooltip: { enabled: false },
        title: { display: true, text: p.title, fullSize: !!p.wide, color: '#000',
          font: { size: titleSize, weight: 'bold' }, padding: titlePad }
      }
    },
    plugins: [frame]
  });
});
</script>
</body>
</html>
